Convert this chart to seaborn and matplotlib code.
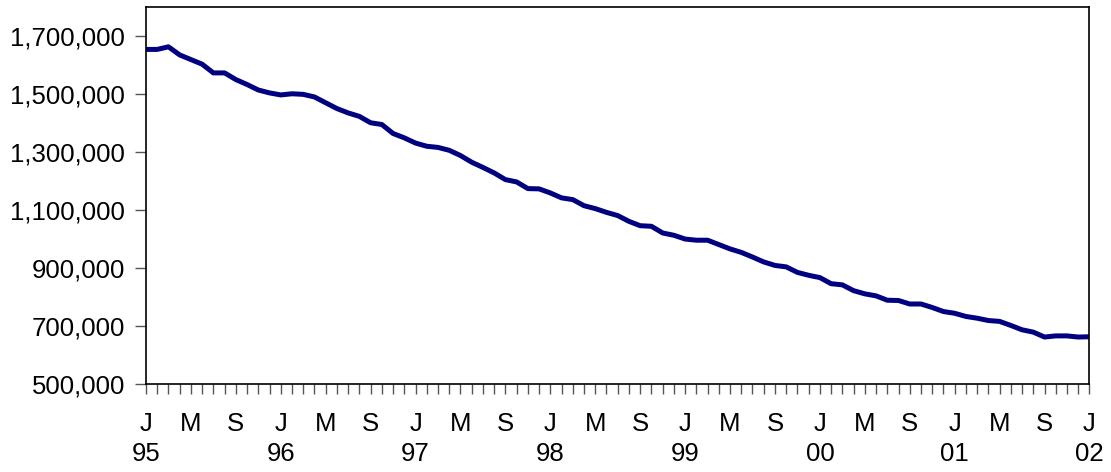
import matplotlib
matplotlib.use("Agg")
import matplotlib.pyplot as plt
import seaborn as sns
import pandas as pd
from matplotlib.ticker import FuncFormatter, MultipleLocator

# monthly values, Jan 1995 - Jan 2002
values = [
    1654000, 1654000, 1663000, 1635000, 1619000, 1603000, 1573000, 1573000,
    1550000, 1533000, 1514000, 1504000, 1497000, 1501000, 1499000, 1490000,
    1470000, 1450000, 1435000, 1423000, 1401000, 1395000, 1364000, 1349000,
    1331000, 1320000, 1316000, 1306000, 1288000, 1265000, 1247000, 1228000,
    1205000, 1197000, 1174000, 1173000, 1159000, 1142000, 1136000, 1115000,
    1105000, 1092000, 1081000, 1061000, 1046000, 1044000, 1021000, 1013000,
    1000000, 996000, 996000, 981000, 966000, 954000, 938000, 921000,
    909000, 904000, 885000, 875000, 867000, 846000, 842000, 822000,
    811000, 804000, 789000, 788000, 776000, 776000, 764000, 750000,
    744000, 733000, 727000, 719000, 716000, 702000, 687000, 679000,
    662000, 666000, 666000, 662000, 663000,
]
month_letters = ["J", "M", "S"]
years = ["95", "96", "97", "98", "99", "00", "01", "02"]

df = pd.DataFrame({"month": range(len(values)), "value": values})

sns.set_style("white")
plt.rcParams["font.family"] = ["Liberation Sans", "DejaVu Sans"]
plt.rcParams["text.color"] = "black"
plt.rcParams["xtick.labelcolor"] = "black"
plt.rcParams["ytick.labelcolor"] = "black"

fig = plt.figure(figsize=(11.11, 4.72), dpi=100)
ax = fig.add_axes([0.1314, 0.1864, 0.8492, 0.7986])

sns.lineplot(data=df, x="month", y="value", ax=ax, color="#000080", linewidth=3.6)

ax.set_xlim(0, len(values) - 1)
ax.set_ylim(500000, 1800000)
ax.set_yticks(range(500000, 1800001 - 100000, 200000))
ax.yaxis.set_major_formatter(FuncFormatter(lambda v, p: f"{int(v):,}"))

# J / M / S labels every four months, year under each January
pos = list(range(0, len(values), 4))
labels = []
for p in pos:
    lab = month_letters[(p % 12) // 4]
    if p % 12 == 0:
        lab += "\n" + years[p // 12]
    labels.append(lab)
ax.set_xticks(pos)
ax.set_xticklabels(labels, linespacing=1.35, va="top")
ax.xaxis.set_minor_locator(MultipleLocator(1))

ax.set_xlabel("")
ax.set_ylabel("")
for s in ax.spines.values():
    s.set_visible(True)
    s.set_color("black")
    s.set_linewidth(1.2)

ax.tick_params(axis="x", which="both", direction="out", length=7, width=1,
               color="#555555", bottom=True, pad=13, labelsize=18.5,
               labelcolor="black")
ax.tick_params(axis="y", direction="out", length=8, width=1, color="#555555",
               left=True, pad=7, labelsize=18.5, labelcolor="black")

fig.savefig("out.png", dpi=100)
